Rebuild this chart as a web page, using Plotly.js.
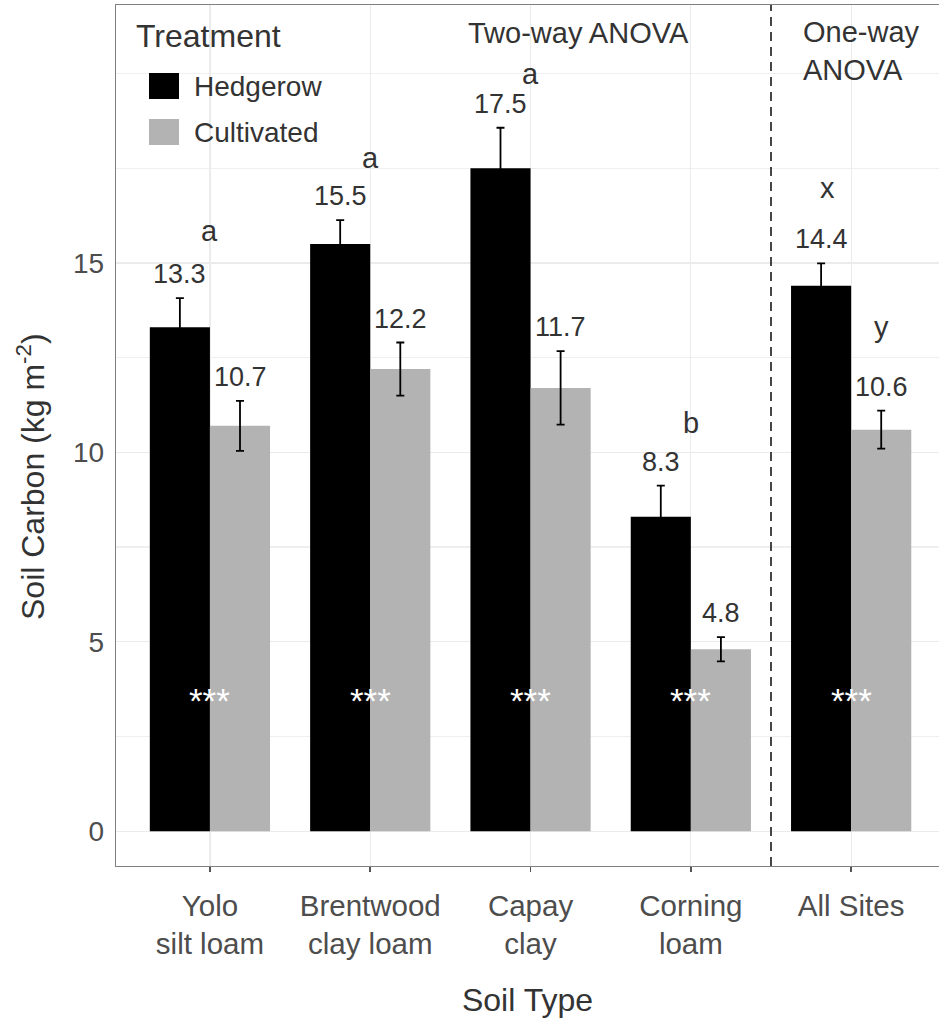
<!DOCTYPE html>
<html>
<head>
<meta charset="utf-8">
<script src="https://cdn.plot.ly/plotly-3.0.1.min.js"></script>
<style>
  html, body { margin: 0; padding: 0; background: #fff; overflow: hidden; }
  #chart { width: 939px; height: 1018px; }
</style>
</head>
<body>
<div id="chart"></div>
<script>
// Soil carbon stocks by soil type and treatment (mean ± SE)
const soilTypes = ["Yolo<br>silt loam", "Brentwood<br>clay loam", "Capay<br>clay", "Corning<br>loam", "All Sites"];
const hedgerowMean = [13.3, 15.5, 17.5, 8.3, 14.4];
const hedgerowSE   = [0.77, 0.63, 1.07, 0.82, 0.59];
const cultivatedMean = [10.7, 12.2, 11.7, 4.8, 10.6];
const cultivatedSE   = [0.66, 0.70, 0.97, 0.32, 0.50];
// Post-hoc group letters (one per soil type; All Sites has one per treatment)
const groupLetters = ["a", "a", "a", "b"];
const allSitesLetters = ["x", "y"];
const sigMarks = ["***", "***", "***", "***", "***"];

const cats = soilTypes.map((_, i) => i + 1);
const halfBar = 0.1875;   // dodge offset of each bar from its category centre

const FONT = "Liberation Sans, Arial, Helvetica, sans-serif";
const TXT = "#333333";

// pixel -> paper helpers for blocks placed outside the data scale (plot area 116..939 x 5..866)
const L = 116, R = 939, T = 5, B = 866;
const px = v => (v - L) / (R - L);
const py = v => (B - v) / (B - T);

const traces = [
  {
    type: "bar", name: "Hedgerow", x: cats, y: hedgerowMean,
    marker: { color: "#000000", line: { width: 0 } },
    error_y: { type: "data", array: hedgerowSE, visible: true, color: "#000000", thickness: 1.8, width: 4 },
    showlegend: false, hoverinfo: "y"
  },
  {
    type: "bar", name: "Cultivated", x: cats, y: cultivatedMean,
    marker: { color: "#b3b3b3", line: { width: 0 } },
    error_y: { type: "data", array: cultivatedSE, visible: true, color: "#000000", thickness: 1.8, width: 4 },
    showlegend: false, hoverinfo: "y"
  }
];

const annotations = [];

// value labels above each error bar
cats.forEach((c, i) => {
  annotations.push({
    x: c - halfBar, y: hedgerowMean[i] + hedgerowSE[i], text: hedgerowMean[i].toFixed(1),
    showarrow: false, yanchor: "bottom", yshift: 7, font: { family: FONT, size: 27, color: TXT }
  });
  annotations.push({
    x: c + halfBar, y: cultivatedMean[i] + cultivatedSE[i], text: cultivatedMean[i].toFixed(1),
    showarrow: false, yanchor: "bottom", yshift: 7, font: { family: FONT, size: 27, color: TXT }
  });
  // significance of the treatment effect, inside the bars
  annotations.push({
    x: c, y: 3.45, text: sigMarks[i], showarrow: false, yanchor: "middle",
    font: { family: FONT, size: 35, color: "#ffffff" }
  });
});

// letters from the two-way ANOVA comparisons
const letterY = [15.84, 17.78, 19.99, 10.77];
groupLetters.forEach((t, i) => {
  annotations.push({
    x: cats[i], y: letterY[i], text: t, showarrow: false, yanchor: "middle",
    font: { family: FONT, size: 29, color: TXT }
  });
});
// letters from the one-way ANOVA
annotations.push({ x: 4.85, y: 16.99, text: allSitesLetters[0], showarrow: false, yanchor: "middle",
  font: { family: FONT, size: 29, color: TXT } });
annotations.push({ x: 5 + halfBar, y: 13.3, text: allSitesLetters[1], showarrow: false, yanchor: "middle",
  font: { family: FONT, size: 29, color: TXT } });

// panel headings
annotations.push({ x: 3.296, y: 21.07, text: "Two-way ANOVA", showarrow: false, yanchor: "middle",
  font: { family: FONT, size: 29, color: TXT } });
annotations.push({ x: 4.687, y: 20.6, text: "One-way<br>ANOVA", showarrow: false, xanchor: "left", yanchor: "middle",
  align: "left", font: { family: FONT, size: 29, color: TXT } });

// legend
annotations.push({ xref: "paper", yref: "paper", x: px(134), y: py(35.5), text: "Treatment",
  showarrow: false, xanchor: "left", yanchor: "middle", font: { family: FONT, size: 32, color: TXT } });
annotations.push({ xref: "paper", yref: "paper", x: px(192), y: py(86), text: "Hedgerow",
  showarrow: false, xanchor: "left", yanchor: "middle", font: { family: FONT, size: 28, color: TXT } });
annotations.push({ xref: "paper", yref: "paper", x: px(192), y: py(132), text: "Cultivated",
  showarrow: false, xanchor: "left", yanchor: "middle", font: { family: FONT, size: 28, color: TXT } });

// y axis title
annotations.push({ xref: "paper", yref: "paper", x: px(31), y: py(477), text: "Soil Carbon (kg m<sup>-2</sup>)",
  textangle: -90, showarrow: false, xanchor: "center", yanchor: "middle",
  font: { family: FONT, size: 32, color: TXT } });

const shapes = [
  // divider between the two-way and one-way analyses
  { type: "line", xref: "x", yref: "paper", x0: 4.5, x1: 4.5, y0: 0, y1: 1,
    line: { color: "#1a1a1a", width: 1.6, dash: "9px,6px" } },
  // legend keys
  { type: "rect", xref: "paper", yref: "paper", x0: px(149), x1: px(179), y0: py(99), y1: py(73),
    fillcolor: "#000000", line: { width: 0 } },
  { type: "rect", xref: "paper", yref: "paper", x0: px(149), x1: px(179), y0: py(145), y1: py(119),
    fillcolor: "#b3b3b3", line: { width: 0 } }
];

const layout = {
  width: 939, height: 1018,
  margin: { l: L, r: 0, t: T, b: 1018 - B },
  paper_bgcolor: "#ffffff", plot_bgcolor: "#ffffff",
  barmode: "group", bargap: 0.25, bargroupgap: 0,
  showlegend: false,
  font: { family: FONT, color: TXT },
  xaxis: {
    range: [0.414, 5.548], tickvals: cats, ticktext: soilTypes,
    tickfont: { family: FONT, size: 29.5, color: "#4d4d4d" },
    showgrid: true, gridcolor: "#ebebeb", gridwidth: 1.3, zeroline: false,
    ticks: "outside", ticklen: 5, tickwidth: 1.5, tickcolor: "#555555", ticklabelstandoff: 8,
    showline: true, linecolor: "#808080", linewidth: 1.3, mirror: true,
    title: { text: "Soil Type", font: { family: FONT, size: 32, color: TXT }, standoff: 30 }
  },
  yaxis: {
    range: [-0.92, 21.81], tickvals: [0, 5, 10, 15],
    tickfont: { family: FONT, size: 28, color: "#4d4d4d" },
    showgrid: true, gridcolor: "#ebebeb", gridwidth: 1.3, zeroline: false,
    minor: { tick0: 0, dtick: 2.5, showgrid: true, gridcolor: "#efefef", gridwidth: 1.2, ticks: "" },
    ticks: "", ticklabelstandoff: 5,
    showline: true, linecolor: "#808080", linewidth: 1.3, mirror: false
  },
  annotations: annotations,
  shapes: shapes
};

Plotly.newPlot("chart", traces, layout, { displayModeBar: false, staticPlot: true });
</script>
</body>
</html>
